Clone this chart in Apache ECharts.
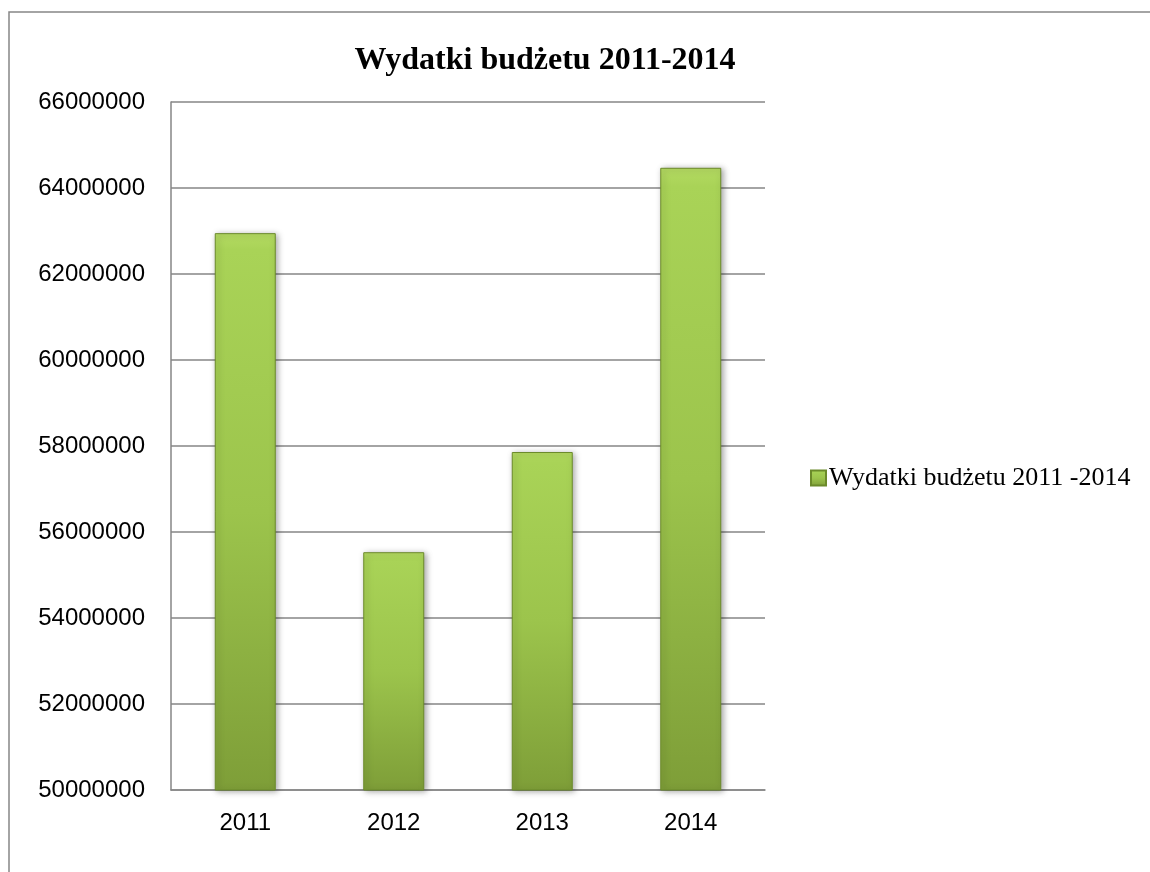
<!DOCTYPE html>
<html>
<head>
<meta charset="utf-8">
<script src="https://cdn.jsdelivr.net/npm/echarts@6/dist/echarts.min.js"></script>
<style>html,body{margin:0;padding:0;background:#fff}#c{width:1150px;height:872px}</style>
</head>
<body>
<div id="c"></div>
<script>
const categories = ['2011', '2012', '2013', '2014'];
const values = [62950000, 55530000, 57860000, 64470000];
const seriesName = 'Wydatki budżetu 2011 -2014';
const titleText = 'Wydatki budżetu 2011-2014';

const chart = echarts.init(document.getElementById('c'));
chart.setOption({
  animation: false,
  backgroundColor: '#fff',
  graphic: [{
    type: 'rect', silent: true,
    shape: { x: 9, y: 12, width: 1200, height: 900 },
    style: { fill: 'none', stroke: '#868686', lineWidth: 1.5 }
  }],
  title: {
    text: titleText, left: 540, top: 40, textAlign: 'center',
    textStyle: { fontFamily: 'Liberation Serif', fontWeight: 'bold', fontSize: 32, color: '#000' }
  },
  legend: {
    left: 805, top: 460, itemWidth: 15, itemHeight: 15, itemGap: 6,
    icon: 'rect',
    textStyle: { fontFamily: 'Liberation Serif', fontSize: 26, color: '#000', padding: [0,0,0,-2] },
    data: [seriesName]
  },
  grid: { left: 171, top: 102, width: 594, height: 688, containLabel: false },
  xAxis: {
    type: 'category', data: categories,
    axisLine: { lineStyle: { color: '#868686', width: 1.5 } },
    axisTick: { show: false },
    axisLabel: { fontFamily: 'Liberation Sans', fontSize: 24, color: '#000', margin: 21 }
  },
  yAxis: {
    type: 'value', min: 50000000, max: 66000000, interval: 2000000,
    axisLine: { show: true, lineStyle: { color: '#868686', width: 1.5 } },
    axisTick: { show: false },
    splitLine: { lineStyle: { color: '#868686', width: 1.5 } },
    axisLabel: { fontFamily: 'Liberation Sans', fontSize: 24, color: '#000', margin: 26,
      formatter: v => String(v) }
  },
  series: [{
    name: seriesName, type: 'bar', data: values, barWidth: 61,
    itemStyle: {
      color: {
        type: 'linear', x: 0, y: 0, x2: 0, y2: 1,
        colorStops: [
          { offset: 0, color: '#b4da62' },
          { offset: 0.03, color: '#a9d357' },
          { offset: 0.5, color: '#9cc44c' },
          { offset: 1, color: '#7e9e38' }
        ]
      },
      borderColor: '#6b8a2a', borderWidth: 1,
      shadowColor: 'rgba(0,0,0,0.35)', shadowBlur: 6, shadowOffsetX: 2, shadowOffsetY: 1
    }
  }]
});
</script>
</body>
</html>
